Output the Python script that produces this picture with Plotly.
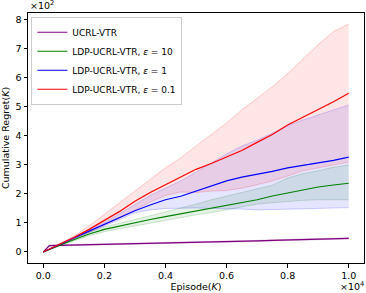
import plotly.graph_objects as go

episodes = [0, 200, 500, 1000, 1500, 2000, 2500, 3000, 3500, 4000, 4500, 5000,
            5500, 6000, 6500, 7000, 7500, 8000, 8500, 9000, 9500, 10000]

ucrl_mean = [0, 22, 23, 24, 25, 27, 28, 29, 30, 31, 33, 34, 35, 36, 37, 38, 40, 41, 42, 43, 45, 47]
ucrl_upper = [0, 24, 25, 26, 27, 29, 30, 31, 32, 33, 35, 36, 37, 38, 39, 40, 42, 43, 44, 45, 47, 49]
ucrl_lower = [0, 20, 21, 22, 23, 25, 26, 27, 28, 29, 31, 32, 33, 34, 35, 36, 38, 39, 40, 41, 43, 45]

eps10_mean = [0, 9, 22, 42, 62, 78, 90, 100, 112, 122, 132, 141, 150, 160, 172, 180, 193, 204, 215, 224, 231, 237]
eps10_upper = [0, 10, 24, 46, 68, 86, 100, 112, 125, 138, 150, 165, 180, 192, 205, 218, 230, 255, 270, 280, 292, 300]
eps10_lower = [0, 8, 20, 38, 56, 70, 80, 90, 100, 110, 120, 128, 136, 145, 155, 165, 170, 175, 178, 180, 180, 180]

eps1_mean = [0, 10, 24, 48, 72, 95, 120, 142, 162, 180, 192, 210, 228, 245, 258, 267, 278, 290, 298, 307, 316, 327]
eps1_upper = [0, 10, 25, 50, 76, 102, 132, 165, 195, 220, 245, 275, 308, 338, 365, 385, 410, 435, 455, 472, 490, 507]
eps1_lower = [0, 10, 23, 45, 67, 88, 112, 135, 145, 150, 152, 152, 150, 150, 148, 145, 146, 148, 150, 151, 152, 153]

eps01_mean = [0, 10, 25, 50, 78, 108, 140, 175, 205, 232, 258, 285, 305, 327, 350, 378, 405, 438, 465, 490, 518, 547]
eps01_upper = [0, 10, 27, 55, 90, 130, 170, 210, 250, 290, 325, 365, 405, 445, 490, 530, 570, 615, 665, 715, 760, 786]
eps01_lower = [0, 10, 23, 45, 68, 92, 118, 145, 172, 195, 207, 205, 210, 212, 220, 232, 245, 262, 280, 290, 300, 310]

names = ["UCRL-VTR", "LDP-UCRL-VTR, <i>ε</i> = 10", "LDP-UCRL-VTR, <i>ε</i> = 1", "LDP-UCRL-VTR, <i>ε</i> = 0.1"]
colors = [(128, 0, 128), (0, 128, 0), (0, 0, 255), (255, 0, 0)]

x_tickvals = [0, 2000, 4000, 6000, 8000, 10000]
x_ticktext = ["0.0", "0.2", "0.4", "0.6", "0.8", "1.0"]
y_tickvals = [0, 100, 200, 300, 400, 500, 600, 700, 800]
y_ticktext = ["0", "1", "2", "3", "4", "5", "6", "7", "8"]

series = [
    (ucrl_mean, ucrl_upper, ucrl_lower),
    (eps10_mean, eps10_upper, eps10_lower),
    (eps1_mean, eps1_upper, eps1_lower),
    (eps01_mean, eps01_upper, eps01_lower),
]

FONT = "DejaVu Sans"
fig = go.Figure()

for (mean, up, lo), c in zip(series, colors):
    r, g, b = c
    fig.add_trace(go.Scatter(x=episodes, y=lo, mode="lines",
                             line=dict(color=f"rgba({r},{g},{b},0.18)", width=1),
                             showlegend=False, hoverinfo="skip"))
    fig.add_trace(go.Scatter(x=episodes, y=up, mode="lines", fill="tonexty",
                             fillcolor=f"rgba({r},{g},{b},0.1)",
                             line=dict(color=f"rgba({r},{g},{b},0.18)", width=1),
                             showlegend=False, hoverinfo="skip"))

for (mean, up, lo), c, n in zip(series, colors, names):
    r, g, b = c
    fig.add_trace(go.Scatter(x=episodes, y=mean, mode="lines", name=n,
                             line=dict(color=f"rgb({r},{g},{b})", width=1.2)))

axis_common = dict(showgrid=False, zeroline=False, showline=True, linecolor="black",
                   linewidth=1, mirror=True, ticks="outside", ticklen=3.5, tickwidth=0.8,
                   tickcolor="black", tickfont=dict(family=FONT, size=9.5, color="black"))

fig.update_layout(
    width=366, height=293,
    margin=dict(l=28, r=2, t=13, b=30),
    paper_bgcolor="white", plot_bgcolor="white",
    font=dict(family=FONT, size=9.5, color="black"),
    xaxis=dict(range=[-500, 10500], tickvals=x_tickvals, ticktext=x_ticktext,
               title=dict(text="Episode(<i>K</i>)", font=dict(family=FONT, size=9.5), standoff=2),
               **axis_common),
    yaxis=dict(range=[-38, 824], tickvals=y_tickvals, ticktext=y_ticktext,
               title=dict(text="Cumulative Regret(<i>K</i>)", font=dict(family=FONT, size=9.5), standoff=4),
               **axis_common),
    legend=dict(x=0.01, y=0.985, xanchor="left", yanchor="top", traceorder="normal",
                bgcolor="rgba(255,255,255,0.8)", bordercolor="#cccccc", borderwidth=1,
                font=dict(family=FONT, size=9), tracegroupgap=0),
    showlegend=True,
)

fig.add_annotation(text="×10<sup>2</sup>", xref="paper", yref="paper", x=0, y=1,
                   xanchor="left", yanchor="bottom", showarrow=False,
                   font=dict(family=FONT, size=9.5))
fig.add_annotation(text="×10<sup>4</sup>", xref="paper", yref="paper", x=1, y=0,
                   xanchor="right", yanchor="top", yshift=-15, xshift=2, showarrow=False,
                   font=dict(family=FONT, size=9.5))

fig.write_html("out.html", config={"displayModeBar": False},
               post_script="document.body.style.margin='0';document.body.style.overflow='hidden';")
